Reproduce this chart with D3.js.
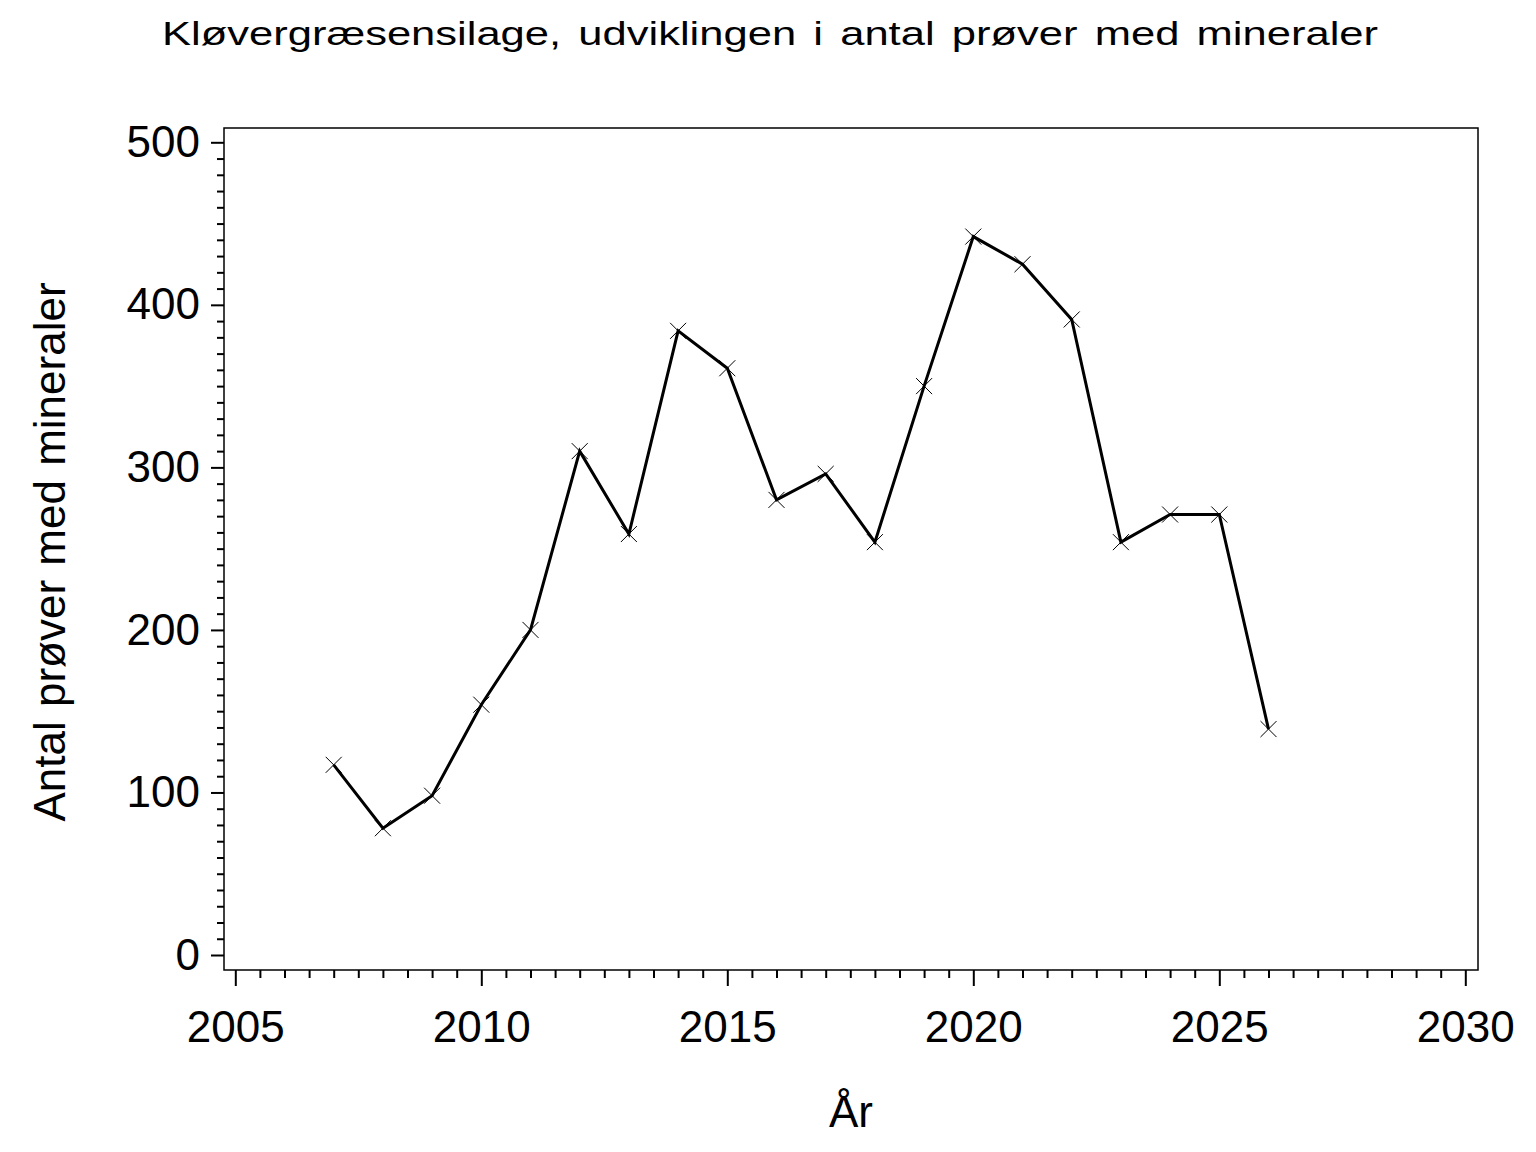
<!DOCTYPE html>
<html>
<head>
<meta charset="utf-8">
<script src="https://cdn.jsdelivr.net/npm/d3@7"></script>
<style>
  body { margin: 0; background: #fff; }
  svg { display: block; font-family: "Liberation Sans", Arial, sans-serif; }
  .axis text { font-size: 44px; fill: #000; }
  .axis line { stroke: #000; stroke-width: 2; }
  .axis path { display: none; }
</style>
</head>
<body>
<div class="chart"></div>
<script>
// Data.
const years = [2007, 2008, 2009, 2010, 2011, 2012, 2013, 2014, 2015, 2016,
               2017, 2018, 2019, 2020, 2021, 2022, 2023, 2024, 2025, 2026];
const samples = [117, 78, 98, 154, 200, 310, 259, 384, 361, 280,
                 296, 254, 350, 442, 425, 391, 254, 271, 271, 139];
const xTicks = [2005, 2010, 2015, 2020, 2025, 2030];
const yTicks = [0, 100, 200, 300, 400, 500];

const titleText = "Kløvergræsensilage, udviklingen i antal prøver med mineraler";
const xLabel = "År";
const yLabel = "Antal prøver med mineraler";

const points = years.map((y, i) => ({ year: y, value: samples[i] }));

// Layout.
const W = 1536, H = 1152;
const frame = { left: 224, top: 128, right: 1478, bottom: 970 };

const svg = d3
  .select(".chart")
  .append("svg")
  .attr("width", W)
  .attr("height", H);

// Scales.
const xScale = d3.scaleLinear().domain([2005, 2030]).range([235.3, 1465.3]);
const yScale = d3.scaleLinear().domain([0, 500]).range([955, 142.3]);

// Title (wide SAS-style lettering, stretched to the original width).
svg
  .append("text")
  .attr("x", 162)
  .attr("y", 45)
  .attr("textLength", 1216)
  .attr("lengthAdjust", "spacingAndGlyphs")
  .style("font-size", "34px")
  .style("word-spacing", "4px")
  .text(titleText);

// Frame.
svg
  .append("rect")
  .attr("x", frame.left)
  .attr("y", frame.top)
  .attr("width", frame.right - frame.left)
  .attr("height", frame.bottom - frame.top)
  .attr("fill", "none")
  .attr("stroke", "#000")
  .attr("stroke-width", 1.5);

// Minor ticks.
const xMinor = d3.range(2005, 2030.01, 0.5).filter((d) => d % 5 !== 0);
const yMinor = d3.range(0, 501, 10).filter((d) => d % 100 !== 0);

svg
  .append("g")
  .attr("class", "x axis minor")
  .attr("transform", `translate(0, ${frame.bottom})`)
  .call(d3.axisBottom(xScale).tickValues(xMinor).tickSize(8).tickFormat(""));

svg
  .append("g")
  .attr("class", "y axis minor")
  .attr("transform", `translate(${frame.left}, 0)`)
  .call(d3.axisLeft(yScale).tickValues(yMinor).tickSize(7).tickFormat(""));

// Major axes.
svg
  .append("g")
  .attr("class", "x axis")
  .attr("transform", `translate(0, ${frame.bottom})`)
  .call(
    d3.axisBottom(xScale)
      .tickValues(xTicks)
      .tickSize(16)
      .tickPadding(25)
      .tickFormat(d3.format("d"))
  );

svg
  .append("g")
  .attr("class", "y axis")
  .attr("transform", `translate(${frame.left}, 0)`)
  .call(
    d3.axisLeft(yScale)
      .tickValues(yTicks)
      .tickSize(13)
      .tickPadding(11)
      .tickFormat(d3.format("d"))
  );

// Axis labels.
svg
  .append("text")
  .attr("x", (frame.left + frame.right) / 2)
  .attr("y", 1127)
  .attr("text-anchor", "middle")
  .style("font-size", "44px")
  .text(xLabel);

svg
  .append("text")
  .attr("transform", "translate(65, 552) rotate(-90)")
  .attr("text-anchor", "middle")
  .style("font-size", "44px")
  .style("word-spacing", "2px")
  .text(yLabel);

// Line.
const lineGen = d3
  .line()
  .x((d) => xScale(d.year))
  .y((d) => yScale(d.value));

svg
  .append("path")
  .datum(points)
  .attr("d", lineGen)
  .attr("fill", "none")
  .attr("stroke", "#000")
  .attr("stroke-width", 3)
  .attr("stroke-linejoin", "miter");

// Markers.
const marker = d3.symbol(d3.symbolTimes, 169);

svg
  .append("g")
  .selectAll("path")
  .data(points)
  .enter()
  .append("path")
  .attr("transform", (d) => `translate(${xScale(d.year)}, ${yScale(d.value)})`)
  .attr("d", marker)
  .attr("fill", "none")
  .attr("stroke", "#000")
  .attr("stroke-width", 1);
</script>
</body>
</html>
